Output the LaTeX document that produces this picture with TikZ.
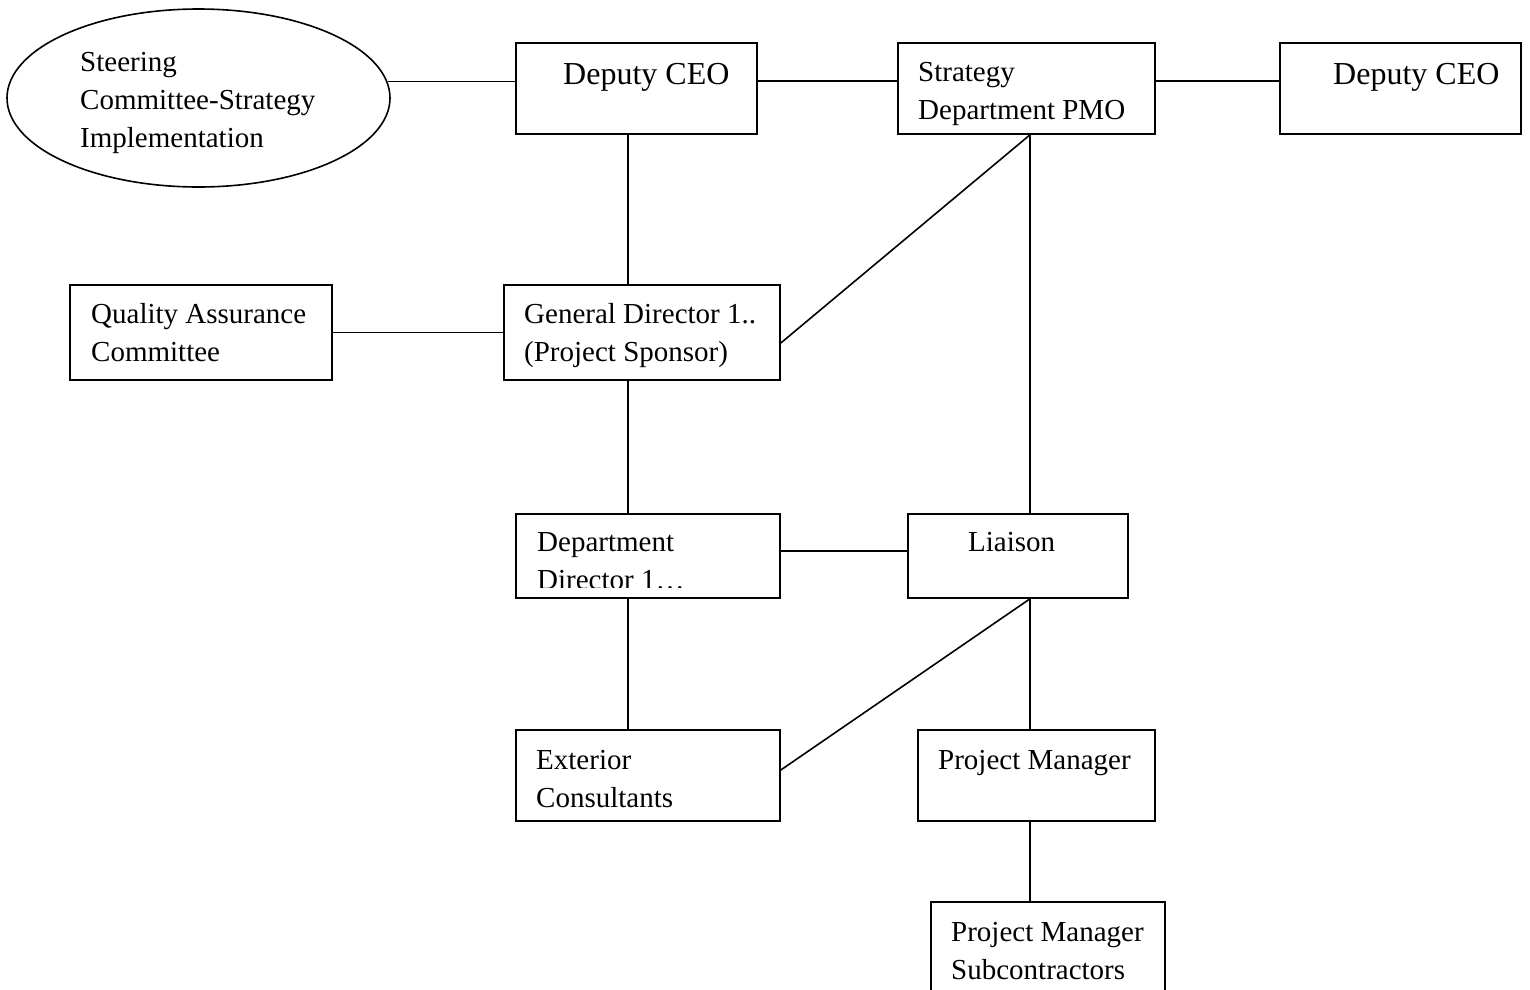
\documentclass[tikz,border=0pt]{standalone}
\usepackage{fontspec}
\setmainfont{Liberation Serif}
\usetikzlibrary{shapes.geometric}
\begin{document}
\begin{tikzpicture}[x=1pt,y=-1pt,
  box/.style={draw, line width=1.6pt, inner sep=0pt, minimum width=#1},
  conn/.style={line width=1.6pt},
  txt/.style={anchor=base west, inner sep=0pt, font=\fontsize{29}{38}\selectfont},
  bigtxt/.style={anchor=base west, inner sep=0pt, font=\fontsize{32}{38}\selectfont}]
\useasboundingbox (0,0) rectangle (1530,989);
\clip (0,0) rectangle (1530,989);
\fill[white] (0,0) rectangle (1530,989);

% guide coordinates
\coordinate (vL) at (628,0);
\coordinate (vR) at (1030,0);
\coordinate (hT) at (0,81);
\coordinate (hM) at (0,551);
\coordinate (dg1) at (0,343);
\coordinate (dg2) at (0,770);

% shapes
\node[ellipse, draw, line width=1.6pt, inner sep=0pt, minimum width=383pt, minimum height=178pt] (ell) at (198.5,98) {};
\node[box=241pt, minimum height=91pt] (dceo1) at (636.5,88.5) {};
\node[box=257pt, minimum height=91pt] (pmo) at (1026.5,88.5) {};
\node[box=241pt, minimum height=91pt] (dceo2) at (1400.5,88.5) {};
\node[box=262pt, minimum height=95pt] (qa) at (201,332.5) {};
\node[box=276pt, minimum height=95pt] (gd) at (642,332.5) {};
\node[box=264pt, minimum height=84pt] (dd) at (648,556) {};
\node[box=220pt, minimum height=84pt] (li) at (1018,556) {};
\node[box=264pt, minimum height=91pt] (ec) at (648,775.5) {};
\node[box=237pt, minimum height=91pt] (pm) at (1036.5,775.5) {};
\node[box=234pt, minimum height=98pt] (pms) at (1048,951) {};

% texts
\node[txt] (t1a) at (80,71) {Steering};
\node[txt] (t1b) at (80,109) {Committee-Strategy};
\node[txt] (t1c) at (80,147) {Implementation};
\node[bigtxt] (t2) at (563,84) {Deputy CEO};
\node[txt] (t3a) at (918,81) {Strategy};
\node[txt] (t3b) at (918,119) {Department PMO};
\node[bigtxt] (t4) at (1333,84) {Deputy CEO};
\node[txt] (t5a) at (91,323) {Quality Assurance};
\node[txt] (t5b) at (91,361) {Committee};
\node[txt] (t6a) at (524,323) {General Director 1..};
\node[txt] (t6b) at (524,361) {(Project Sponsor)};
\node[txt] (t7a) at (537,551) {Department};
\begin{scope}
  \clip (516,514) rectangle (780,587);
  \node[txt] (t7b) at (537,589) {Director 1…};
\end{scope}
\node[txt] (t8) at (968,551) {Liaison};
\node[txt] (t9a) at (536,769) {Exterior};
\node[txt] (t9b) at (536,807) {Consultants};
\node[txt] (t10) at (938,769) {Project Manager};
\node[txt] (t11a) at (951,941) {Project Manager};
\node[txt] (t11b) at (951,979) {Subcontractors};

% connectors
\draw[conn] (ell.5) -- (ell.5 -| dceo1.west);
\draw[conn] (dceo1.east |- hT) -- (pmo.west |- hT);
\draw[conn] (pmo.east |- hT) -- (dceo2.west |- hT);
\draw[conn] (dceo1.south -| vL) -- (gd.north -| vL);
\draw[conn] (pmo.south -| vR) -- (gd.east |- dg1);
\draw[conn] (pmo.south -| vR) -- (li.north -| vR);
\draw[conn] (qa.east) -- (gd.west);
\draw[conn] (gd.south -| vL) -- (dd.north -| vL);
\draw[conn] (dd.east |- hM) -- (li.west |- hM);
\draw[conn] (dd.south -| vL) -- (ec.north -| vL);
\draw[conn] (li.south -| vR) -- (ec.east |- dg2);
\draw[conn] (li.south -| vR) -- (pm.north -| vR);
\draw[conn] (pm.south -| vR) -- (pms.north -| vR);
\end{tikzpicture}
\end{document}
